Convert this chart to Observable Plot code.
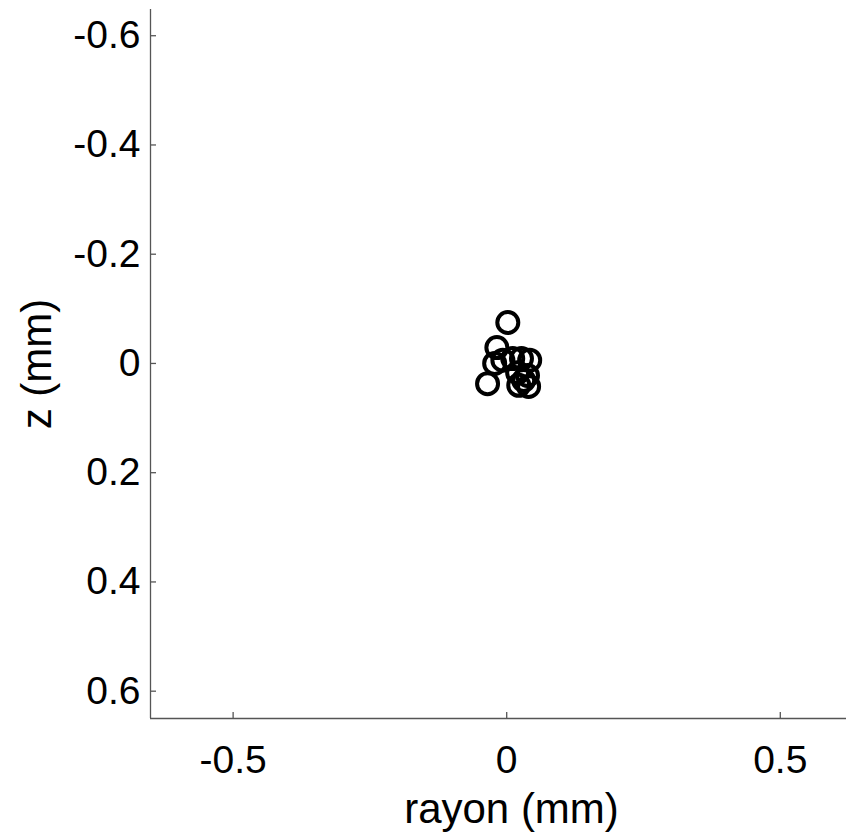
<!DOCTYPE html>
<html>
<head>
<meta charset="utf-8">
<script src="https://cdn.jsdelivr.net/npm/d3@7"></script>
<script src="https://cdn.jsdelivr.net/npm/@observablehq/plot@0.6"></script>
<style>
  body { margin: 0; background: #fff; }
  svg { display: block; }
</style>
</head>
<body>
<div id="chart"></div>
<script>
// Data
const rayon = [0.002, -0.018, -0.035, -0.022, -0.007, 0.011, 0.027, 0.042, 0.020, 0.038, 0.022, 0.040, 0.031];
const zVals = [-0.075, -0.029, 0.037, 0.000, -0.006, -0.009, -0.009, -0.006, 0.017, 0.022, 0.040, 0.042, 0.031];
const xTicks = [-0.5, 0, 0.5];
const xTickLabels = ["-0.5", "0", "0.5"];
const yTicks = [-0.6, -0.4, -0.2, 0, 0.2, 0.4, 0.6];
const yTickLabels = ["-0.6", "-0.4", "-0.2", "0", "0.2", "0.4", "0.6"];
const xLabel = "rayon (mm)";
const yLabel = "z (mm)";
const xDomain = [-0.651, 0.621];
const yDomain = [-0.648, 0.65];

const points = rayon.map((r, i) => ({r, z: zVals[i]}));
const axisColor = "#555";
const font = "'Liberation Sans', Arial, Helvetica, sans-serif";

const chart = Plot.plot({
  width: 846,
  height: 834,
  marginLeft: 150,
  marginRight: 0,
  marginTop: 9,
  marginBottom: 116,
  style: {fontFamily: font, fontSize: "39px", color: "#000", background: "#fff"},
  x: {domain: xDomain, axis: null},
  y: {domain: yDomain, reverse: true, axis: null},
  marks: [
    Plot.ruleX([xDomain[0]], {stroke: axisColor, strokeWidth: 1.3}),
    Plot.ruleY([yDomain[1]], {stroke: axisColor, strokeWidth: 1.3}),
    // inward ticks
    Plot.axisX(xTicks, {tickSize: -6, tickFormat: () => "", stroke: axisColor, strokeWidth: 1.3, label: null}),
    Plot.axisY(yTicks, {tickSize: -6, tickFormat: () => "", stroke: axisColor, strokeWidth: 1.3, label: null}),
    // tick labels
    Plot.axisX(xTicks, {tickSize: 0, tickPadding: 27, tickFormat: (d) => xTickLabels[xTicks.indexOf(d)], fontSize: 39, fill: "#000", label: null}),
    Plot.axisY(yTicks, {tickSize: 0, tickPadding: 10, tickFormat: (d) => yTickLabels[yTicks.indexOf(d)], fontSize: 39, fill: "#000", label: null}),
    Plot.dot(points, {x: "r", y: "z", r: 10.5, stroke: "#000", strokeWidth: 4, fill: "none"}),
    Plot.text([xLabel], {frameAnchor: "bottom", dy: 104, dx: 13, lineAnchor: "bottom", textAnchor: "middle", fontSize: 42, fill: "#000"}),
    Plot.text([yLabel], {frameAnchor: "left", dx: -100, rotate: -90, lineAnchor: "bottom", textAnchor: "middle", fontSize: 42, fill: "#000"})
  ]
});
document.getElementById("chart").appendChild(chart);
</script>
</body>
</html>
